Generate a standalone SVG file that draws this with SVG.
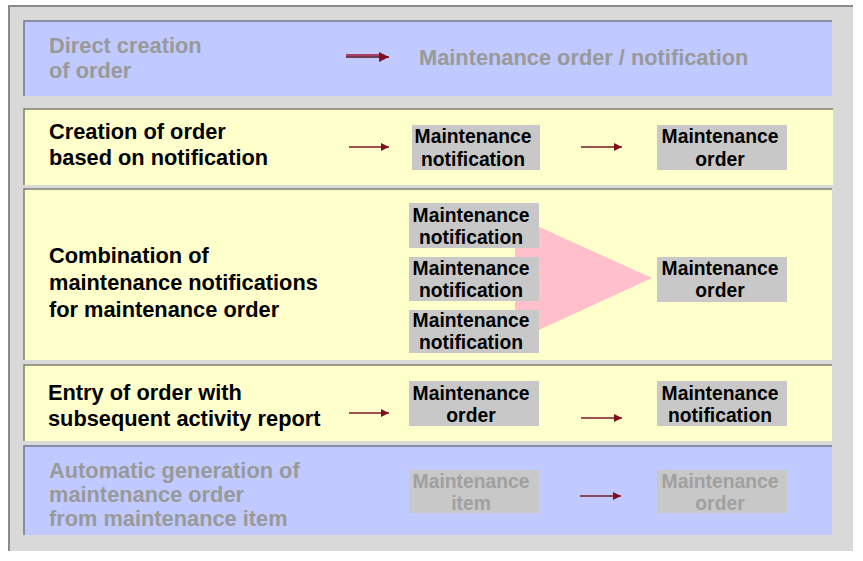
<svg xmlns="http://www.w3.org/2000/svg" width="863" height="561" viewBox="0 0 863 561">
<defs>
<marker id="ah" viewBox="0 0 10 10" refX="10" refY="5" markerWidth="11" markerHeight="8" markerUnits="userSpaceOnUse" orient="auto">
<path d="M0,0 L10,5 L0,10 Z" fill="#80101f"/>
</marker>
<marker id="ah2" viewBox="0 0 10 10" refX="10" refY="5" markerWidth="12" markerHeight="10" markerUnits="userSpaceOnUse" orient="auto">
<path d="M0,0 L10,5 L0,10 Z" fill="#80101f"/>
</marker>
</defs>
<style>
.panel{fill:#d9d9d9}
.blue{fill:#c0caff}
.yellow{fill:#ffffcc}
.edge{fill:none;stroke:#7f7f6f;stroke-width:1.5}
.edgeb{fill:none;stroke:#707890;stroke-width:1.5}
.t{font-family:"Liberation Sans",Arial,sans-serif;font-weight:bold;font-size:21.8px;fill:#000}
.tg{fill:#999999}
.box{fill:#c8c8c8}
.bt{font-family:"Liberation Sans",Arial,sans-serif;font-weight:bold;font-size:19.3px;fill:#000;text-anchor:middle}
.btg{fill:#a0a0a0}
.ar{stroke:#7a1a28;stroke-width:1.5;fill:none;marker-end:url(#ah)}
</style>
<rect width="863" height="561" fill="#ffffff"/>
<rect class="panel" x="9" y="6" width="844" height="545"/>
<path d="M9,551 L9,6 L853,6" fill="none" stroke="#8a8a8a" stroke-width="2"/>

<g id="row1">
<rect class="blue" x="24" y="21" width="808" height="75"/>
<path class="edgeb" d="M24,96 L24,21 L832,21"/>
<text class="t tg" x="49" y="53">Direct creation</text>
<text class="t tg" x="49" y="78">of order</text>
<text class="t tg" x="419" y="65">Maintenance order / notification</text>
</g>

<g id="row2">
<rect class="yellow" x="24" y="109" width="809" height="76"/>
<path class="edge" d="M24,185 L24,109 L833,109"/>
<text class="t" x="49" y="139">Creation of order</text>
<text class="t" x="49" y="165">based on notification</text>
</g>

<g id="row3">
<rect class="yellow" x="24" y="189" width="808" height="171"/>
<path class="edge" d="M24,360 L24,189 L832,189"/>
<text class="t" x="49" y="263">Combination of</text>
<text class="t" x="49" y="290">maintenance notifications</text>
<text class="t" x="49" y="317">for maintenance order</text>
</g>

<g id="row4">
<rect class="yellow" x="24" y="365" width="808" height="76"/>
<path class="edge" d="M24,441 L24,365 L832,365"/>
<text class="t" x="48" y="400">Entry of order with</text>
<text class="t" x="48" y="426">subsequent activity report</text>
</g>

<g id="row5">
<rect class="blue" x="24" y="446" width="808" height="89"/>
<path class="edgeb" d="M24,535 L24,446 L832,446"/>
<text class="t tg" x="49" y="478">Automatic generation of</text>
<text class="t tg" x="49" y="502">maintenance order</text>
<text class="t tg" x="49" y="526">from maintenance item</text>
</g>

<g id="merge">
<polygon points="515,216 652,278 515,341" fill="#ffc0cb"/>
</g>

<g id="n2a">
<rect class="box" x="412" y="125" width="128" height="45"/>
<text class="bt" x="473" y="143">Maintenance</text>
<text class="bt" x="473" y="166">notification</text>
</g>
<g id="n2b">
<rect class="box" x="657" y="125" width="130" height="45"/>
<text class="bt" x="720" y="143">Maintenance</text>
<text class="bt" x="720" y="166">order</text>
</g>

<g id="n3a">
<rect class="box" x="409" y="203" width="130" height="45"/>
<text class="bt" x="471" y="222">Maintenance</text>
<text class="bt" x="471" y="244">notification</text>
</g>
<g id="n3b">
<rect class="box" x="409" y="257" width="130" height="44"/>
<text class="bt" x="471" y="275">Maintenance</text>
<text class="bt" x="471" y="297">notification</text>
</g>
<g id="n3c">
<rect class="box" x="409" y="310" width="130" height="43"/>
<text class="bt" x="471" y="327">Maintenance</text>
<text class="bt" x="471" y="349">notification</text>
</g>
<g id="n3d">
<rect class="box" x="657" y="257" width="130" height="45"/>
<text class="bt" x="720" y="275">Maintenance</text>
<text class="bt" x="720" y="297">order</text>
</g>

<g id="n4a">
<rect class="box" x="409" y="381" width="130" height="45"/>
<text class="bt" x="471" y="400">Maintenance</text>
<text class="bt" x="471" y="422">order</text>
</g>
<g id="n4b">
<rect class="box" x="657" y="381" width="130" height="45"/>
<text class="bt" x="720" y="400">Maintenance</text>
<text class="bt" x="720" y="422">notification</text>
</g>

<g id="n5a">
<rect class="box" x="409" y="470" width="130" height="43"/>
<text class="bt btg" x="471" y="488">Maintenance</text>
<text class="bt btg" x="471" y="510">item</text>
</g>
<g id="n5b">
<rect class="box" x="657" y="470" width="130" height="43"/>
<text class="bt btg" x="720" y="488">Maintenance</text>
<text class="bt btg" x="720" y="510">order</text>
</g>

<g id="connectors">
<line x1="346" y1="55" x2="380" y2="55" stroke="#a01030" stroke-width="1.5"/>
<line x1="346" y1="57" x2="389" y2="57" stroke="#5a0a18" stroke-width="1.5" marker-end="url(#ah2)"/>
<line class="ar" x1="349" y1="147" x2="389" y2="147"/>
<line class="ar" x1="581" y1="147" x2="622" y2="147"/>
<line class="ar" x1="349" y1="413" x2="389" y2="413"/>
<line class="ar" x1="581" y1="418" x2="622" y2="418"/>
<line class="ar" x1="580" y1="496" x2="621" y2="496"/>
</g>
</svg>
